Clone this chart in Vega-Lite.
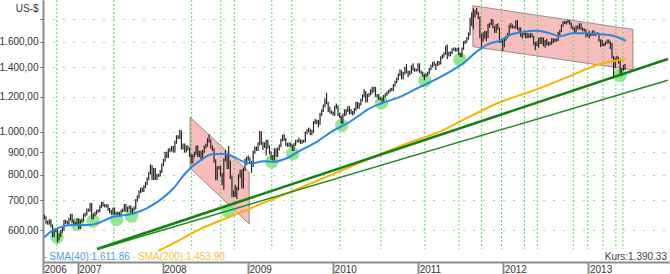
{
"$schema": "https://vega.github.io/schema/vega-lite/v6.json",
"width": 627, "height": 262,
"autosize": {"type": "none"},
"padding": {"left": 43, "top": 0, "right": 0, "bottom": 12},
"background": "white",
"config": {"view": {"stroke": null}, "font": "Liberation Sans"},
"datasets": {
"px": [
{"d":"2006-08-11","l":635,"h":650},{"d":"2006-08-18","l":620,"h":645},{"d":"2006-08-25","l":617,"h":630},{"d":"2006-09-01","l":617,"h":635},{"d":"2006-09-08","l":608,"h":635},{"d":"2006-09-15","l":578,"h":618},{"d":"2006-09-22","l":578,"h":605},{"d":"2006-09-29","l":594,"h":605},{"d":"2006-10-06","l":562,"h":604},{"d":"2006-10-13","l":568,"h":589},{"d":"2006-10-20","l":579,"h":600},{"d":"2006-10-27","l":590,"h":608},{"d":"2006-11-03","l":598,"h":633},{"d":"2006-11-10","l":620,"h":633},{"d":"2006-11-17","l":617,"h":630},{"d":"2006-11-24","l":617,"h":640},{"d":"2006-12-01","l":630,"h":653},{"d":"2006-12-08","l":623,"h":653},{"d":"2006-12-15","l":615,"h":633},{"d":"2006-12-22","l":615,"h":626},{"d":"2006-12-29","l":616,"h":637},
{"d":"2007-01-05","l":603,"h":637},{"d":"2007-01-12","l":603,"h":633},{"d":"2007-01-19","l":623,"h":637},{"d":"2007-01-26","l":627,"h":653},{"d":"2007-02-02","l":643,"h":657},{"d":"2007-02-09","l":647,"h":671},{"d":"2007-02-16","l":660,"h":671},{"d":"2007-02-23","l":660,"h":691},{"d":"2007-03-02","l":635,"h":691},{"d":"2007-03-09","l":635,"h":655},{"d":"2007-03-16","l":645,"h":660},{"d":"2007-03-23","l":650,"h":667},{"d":"2007-03-30","l":657,"h":668},{"d":"2007-04-06","l":658,"h":683},{"d":"2007-04-13","l":673,"h":695},{"d":"2007-04-20","l":678,"h":695},{"d":"2007-04-27","l":675,"h":688},{"d":"2007-05-04","l":675,"h":686},{"d":"2007-05-11","l":663,"h":686},{"d":"2007-05-18","l":656,"h":673},{"d":"2007-05-25","l":650,"h":666},{"d":"2007-06-01","l":650,"h":675},{"d":"2007-06-08","l":650,"h":675},{"d":"2007-06-15","l":650,"h":660},{"d":"2007-06-22","l":650,"h":660},{"d":"2007-06-29","l":644,"h":660},{"d":"2007-07-06","l":645,"h":667},{"d":"2007-07-13","l":657,"h":671},{"d":"2007-07-20","l":661,"h":687},{"d":"2007-07-27","l":659,"h":687},{"d":"2007-08-03","l":659,"h":678},{"d":"2007-08-10","l":668,"h":682},{"d":"2007-08-17","l":650,"h":682},{"d":"2007-08-24","l":650,"h":674},{"d":"2007-08-31","l":664,"h":678},{"d":"2007-09-07","l":668,"h":705},{"d":"2007-09-14","l":695,"h":718},{"d":"2007-09-21","l":708,"h":738},{"d":"2007-09-28","l":728,"h":748},{"d":"2007-10-05","l":731,"h":749},{"d":"2007-10-12","l":731,"h":758},{"d":"2007-10-19","l":746,"h":771},{"d":"2007-10-26","l":759,"h":790},{"d":"2007-11-02","l":778,"h":813},{"d":"2007-11-09","l":801,"h":845},{"d":"2007-11-16","l":779,"h":841},{"d":"2007-11-23","l":779,"h":829},{"d":"2007-11-30","l":779,"h":829},{"d":"2007-12-07","l":779,"h":803},{"d":"2007-12-14","l":791,"h":805},{"d":"2007-12-21","l":793,"h":820},{"d":"2007-12-28","l":808,"h":848},
{"d":"2008-01-04","l":836,"h":869},{"d":"2008-01-11","l":856,"h":902},{"d":"2008-01-18","l":873,"h":902},{"d":"2008-01-25","l":873,"h":917},{"d":"2008-02-01","l":900,"h":920},{"d":"2008-02-08","l":903,"h":929},{"d":"2008-02-15","l":898,"h":929},{"d":"2008-02-22","l":898,"h":955},{"d":"2008-02-29","l":940,"h":983},{"d":"2008-03-07","l":964,"h":983},{"d":"2008-03-14","l":964,"h":1011},{"d":"2008-03-21","l":913,"h":1008},{"d":"2008-03-28","l":913,"h":942},{"d":"2008-04-04","l":898,"h":942},{"d":"2008-04-11","l":898,"h":932},{"d":"2008-04-18","l":908,"h":932},{"d":"2008-04-25","l":878,"h":922},{"d":"2008-05-02","l":848,"h":892},{"d":"2008-05-09","l":848,"h":890},{"d":"2008-05-16","l":876,"h":902},{"d":"2008-05-23","l":888,"h":932},{"d":"2008-05-30","l":878,"h":932},{"d":"2008-06-06","l":878,"h":907},{"d":"2008-06-13","l":863,"h":907},{"d":"2008-06-20","l":863,"h":910},{"d":"2008-06-27","l":896,"h":932},{"d":"2008-07-04","l":918,"h":940},{"d":"2008-07-11","l":926,"h":968},{"d":"2008-07-18","l":947,"h":988},{"d":"2008-07-25","l":918,"h":962},{"d":"2008-08-01","l":905,"h":932},{"d":"2008-08-08","l":853,"h":919},{"d":"2008-08-15","l":778,"h":867},{"d":"2008-08-22","l":778,"h":836},{"d":"2008-08-29","l":822,"h":839},{"d":"2008-09-05","l":793,"h":839},{"d":"2008-09-12","l":758,"h":806},{"d":"2008-09-19","l":740,"h":872},{"d":"2008-09-26","l":858,"h":910},{"d":"2008-10-03","l":825,"h":892},{"d":"2008-10-10","l":825,"h":930},{"d":"2008-10-17","l":783,"h":862},{"d":"2008-10-24","l":712,"h":797},{"d":"2008-10-31","l":713,"h":737},{"d":"2008-11-07","l":713,"h":760},{"d":"2008-11-14","l":705,"h":752},{"d":"2008-11-21","l":738,"h":802},{"d":"2008-11-28","l":788,"h":822},{"d":"2008-12-05","l":745,"h":822},{"d":"2008-12-12","l":745,"h":830},{"d":"2008-12-19","l":816,"h":870},{"d":"2008-12-26","l":841,"h":879},
{"d":"2009-01-02","l":861,"h":885},{"d":"2009-01-09","l":846,"h":875},{"d":"2009-01-16","l":808,"h":860},{"d":"2009-01-23","l":833,"h":907},{"d":"2009-01-30","l":893,"h":927},{"d":"2009-02-06","l":906,"h":927},{"d":"2009-02-13","l":906,"h":948},{"d":"2009-02-20","l":933,"h":1005},{"d":"2009-02-27","l":935,"h":1003},{"d":"2009-03-06","l":910,"h":950},{"d":"2009-03-13","l":920,"h":948},{"d":"2009-03-20","l":885,"h":960},{"d":"2009-03-27","l":918,"h":960},{"d":"2009-04-03","l":890,"h":932},{"d":"2009-04-10","l":865,"h":904},{"d":"2009-04-17","l":862,"h":887},{"d":"2009-04-24","l":861,"h":919},{"d":"2009-05-01","l":878,"h":919},{"d":"2009-05-08","l":878,"h":922},{"d":"2009-05-15","l":908,"h":937},{"d":"2009-05-22","l":923,"h":965},{"d":"2009-05-29","l":951,"h":985},{"d":"2009-06-05","l":955,"h":990},{"d":"2009-06-12","l":931,"h":969},{"d":"2009-06-19","l":926,"h":945},{"d":"2009-06-26","l":926,"h":947},{"d":"2009-07-03","l":923,"h":947},{"d":"2009-07-10","l":905,"h":937},{"d":"2009-07-17","l":905,"h":944},{"d":"2009-07-24","l":930,"h":960},{"d":"2009-07-31","l":946,"h":960},{"d":"2009-08-07","l":946,"h":970},{"d":"2009-08-14","l":940,"h":962},{"d":"2009-08-21","l":940,"h":959},{"d":"2009-08-28","l":945,"h":962},{"d":"2009-09-04","l":948,"h":1002},{"d":"2009-09-11","l":988,"h":1014},{"d":"2009-09-18","l":998,"h":1024},{"d":"2009-09-25","l":983,"h":1017},{"d":"2009-10-02","l":983,"h":1010},{"d":"2009-10-09","l":996,"h":1058},{"d":"2009-10-16","l":1042,"h":1070},{"d":"2009-10-23","l":1042,"h":1065},{"d":"2009-10-30","l":1024,"h":1065},{"d":"2009-11-06","l":1037,"h":1103},{"d":"2009-11-13","l":1087,"h":1126},{"d":"2009-11-20","l":1110,"h":1153},{"d":"2009-11-27","l":1137,"h":1190},{"d":"2009-12-04","l":1154,"h":1226},{"d":"2009-12-11","l":1110,"h":1170},{"d":"2009-12-18","l":1102,"h":1140},{"d":"2009-12-25","l":1097,"h":1118},
{"d":"2010-01-01","l":1088,"h":1113},{"d":"2010-01-08","l":1088,"h":1146},{"d":"2010-01-15","l":1129,"h":1160},{"d":"2010-01-22","l":1087,"h":1148},{"d":"2010-01-29","l":1074,"h":1103},{"d":"2010-02-05","l":1043,"h":1090},{"d":"2010-02-12","l":1043,"h":1101},{"d":"2010-02-19","l":1085,"h":1125},{"d":"2010-02-26","l":1090,"h":1126},{"d":"2010-03-05","l":1110,"h":1143},{"d":"2010-03-12","l":1096,"h":1143},{"d":"2010-03-19","l":1096,"h":1127},{"d":"2010-03-26","l":1090,"h":1115},{"d":"2010-04-02","l":1097,"h":1133},{"d":"2010-04-09","l":1117,"h":1170},{"d":"2010-04-16","l":1128,"h":1170},{"d":"2010-04-23","l":1128,"h":1164},{"d":"2010-04-30","l":1148,"h":1188},{"d":"2010-05-07","l":1172,"h":1216},{"d":"2010-05-14","l":1200,"h":1249},{"d":"2010-05-21","l":1166,"h":1238},{"d":"2010-05-28","l":1168,"h":1220},{"d":"2010-06-04","l":1200,"h":1225},{"d":"2010-06-11","l":1209,"h":1249},{"d":"2010-06-18","l":1221,"h":1265},{"d":"2010-06-25","l":1230,"h":1265},{"d":"2010-07-02","l":1200,"h":1264},{"d":"2010-07-09","l":1195,"h":1218},{"d":"2010-07-16","l":1181,"h":1218},{"d":"2010-07-23","l":1180,"h":1198},{"d":"2010-07-30","l":1157,"h":1197},{"d":"2010-08-06","l":1173,"h":1212},{"d":"2010-08-13","l":1196,"h":1223},{"d":"2010-08-20","l":1207,"h":1235},{"d":"2010-08-27","l":1219,"h":1245},{"d":"2010-09-03","l":1229,"h":1256},{"d":"2010-09-10","l":1238,"h":1258},{"d":"2010-09-17","l":1238,"h":1283},{"d":"2010-09-24","l":1267,"h":1305},{"d":"2010-10-01","l":1289,"h":1326},{"d":"2010-10-08","l":1309,"h":1356},{"d":"2010-10-15","l":1338,"h":1387},{"d":"2010-10-22","l":1316,"h":1378},{"d":"2010-10-29","l":1316,"h":1367},{"d":"2010-11-05","l":1349,"h":1403},{"d":"2010-11-12","l":1357,"h":1424},{"d":"2010-11-19","l":1330,"h":1375},{"d":"2010-11-26","l":1344,"h":1375},{"d":"2010-12-03","l":1354,"h":1415},{"d":"2010-12-10","l":1376,"h":1431},{"d":"2010-12-17","l":1369,"h":1394},{"d":"2010-12-24","l":1370,"h":1390},{"d":"2010-12-31","l":1371,"h":1430},
{"d":"2011-01-07","l":1360,"h":1430},{"d":"2011-01-14","l":1350,"h":1378},{"d":"2011-01-21","l":1333,"h":1369},{"d":"2011-01-28","l":1309,"h":1351},{"d":"2011-02-04","l":1331,"h":1358},{"d":"2011-02-11","l":1340,"h":1369},{"d":"2011-02-18","l":1351,"h":1397},{"d":"2011-02-25","l":1379,"h":1419},{"d":"2011-03-04","l":1400,"h":1440},{"d":"2011-03-11","l":1410,"h":1445},{"d":"2011-03-18","l":1380,"h":1429},{"d":"2011-03-25","l":1409,"h":1447},{"d":"2011-04-01","l":1415,"h":1447},{"d":"2011-04-08","l":1420,"h":1484},{"d":"2011-04-15","l":1464,"h":1496},{"d":"2011-04-22","l":1476,"h":1514},{"d":"2011-04-29","l":1494,"h":1566},{"d":"2011-05-06","l":1462,"h":1576},{"d":"2011-05-13","l":1481,"h":1519},{"d":"2011-05-20","l":1483,"h":1521},{"d":"2011-05-27","l":1501,"h":1546},{"d":"2011-06-03","l":1526,"h":1552},{"d":"2011-06-10","l":1519,"h":1552},{"d":"2011-06-17","l":1519,"h":1549},{"d":"2011-06-24","l":1490,"h":1555},{"d":"2011-07-01","l":1478,"h":1510},{"d":"2011-07-08","l":1476,"h":1552},{"d":"2011-07-15","l":1532,"h":1604},{"d":"2011-07-22","l":1580,"h":1612},{"d":"2011-07-29","l":1592,"h":1638},{"d":"2011-08-05","l":1617,"h":1680},{"d":"2011-08-12","l":1653,"h":1815},{"d":"2011-08-19","l":1735,"h":1865},{"d":"2011-08-26","l":1705,"h":1905},{"d":"2011-09-02","l":1816,"h":1888},{"d":"2011-09-09","l":1844,"h":1910},{"d":"2011-09-16","l":1800,"h":1868},{"d":"2011-09-23","l":1630,"h":1824},{"d":"2011-09-30","l":1535,"h":1667},{"d":"2011-10-07","l":1600,"h":1680},{"d":"2011-10-14","l":1625,"h":1692},{"d":"2011-10-21","l":1605,"h":1692},{"d":"2011-10-28","l":1632,"h":1755},{"d":"2011-11-04","l":1720,"h":1765},{"d":"2011-11-11","l":1745,"h":1800},{"d":"2011-11-18","l":1715,"h":1798},{"d":"2011-11-25","l":1675,"h":1735},{"d":"2011-12-02","l":1675,"h":1755},{"d":"2011-12-09","l":1703,"h":1762},{"d":"2011-12-16","l":1590,"h":1723},{"d":"2011-12-23","l":1590,"h":1618},{"d":"2011-12-30","l":1523,"h":1616},
{"d":"2012-01-06","l":1555,"h":1627},{"d":"2012-01-13","l":1607,"h":1650},{"d":"2012-01-20","l":1630,"h":1675},{"d":"2012-01-27","l":1655,"h":1747},{"d":"2012-02-03","l":1715,"h":1763},{"d":"2012-02-10","l":1715,"h":1750},{"d":"2012-02-17","l":1714,"h":1735},{"d":"2012-02-24","l":1714,"h":1787},{"d":"2012-03-02","l":1700,"h":1792},{"d":"2012-03-09","l":1680,"h":1722},{"d":"2012-03-16","l":1642,"h":1722},{"d":"2012-03-23","l":1627,"h":1673},{"d":"2012-03-30","l":1653,"h":1678},{"d":"2012-04-06","l":1630,"h":1678},{"d":"2012-04-13","l":1630,"h":1675},{"d":"2012-04-20","l":1632,"h":1670},{"d":"2012-04-27","l":1632,"h":1673},{"d":"2012-05-04","l":1635,"h":1673},{"d":"2012-05-11","l":1570,"h":1650},{"d":"2012-05-18","l":1530,"h":1600},{"d":"2012-05-25","l":1563,"h":1602},{"d":"2012-06-01","l":1550,"h":1632},{"d":"2012-06-08","l":1580,"h":1640},{"d":"2012-06-15","l":1580,"h":1637},{"d":"2012-06-22","l":1562,"h":1637},{"d":"2012-06-29","l":1550,"h":1614},{"d":"2012-07-06","l":1570,"h":1625},{"d":"2012-07-13","l":1565,"h":1600},{"d":"2012-07-20","l":1570,"h":1600},{"d":"2012-07-27","l":1574,"h":1630},{"d":"2012-08-03","l":1590,"h":1630},{"d":"2012-08-10","l":1595,"h":1630},{"d":"2012-08-17","l":1600,"h":1626},{"d":"2012-08-24","l":1606,"h":1682},{"d":"2012-08-31","l":1650,"h":1702},{"d":"2012-09-07","l":1682,"h":1750},{"d":"2012-09-14","l":1730,"h":1780},{"d":"2012-09-21","l":1755,"h":1783},{"d":"2012-09-28","l":1750,"h":1783},{"d":"2012-10-05","l":1762,"h":1795},{"d":"2012-10-12","l":1748,"h":1790},{"d":"2012-10-19","l":1713,"h":1768},{"d":"2012-10-26","l":1700,"h":1733},{"d":"2012-11-02","l":1667,"h":1722},{"d":"2012-11-09","l":1667,"h":1741},{"d":"2012-11-16","l":1704,"h":1741},{"d":"2012-11-23","l":1704,"h":1761},{"d":"2012-11-30","l":1702,"h":1761},{"d":"2012-12-07","l":1690,"h":1722},{"d":"2012-12-14","l":1687,"h":1715},{"d":"2012-12-21","l":1635,"h":1707},{"d":"2012-12-28","l":1647,"h":1667},
{"d":"2013-01-04","l":1626,"h":1693},{"d":"2013-01-11","l":1646,"h":1672},{"d":"2013-01-18","l":1652,"h":1697},{"d":"2013-01-25","l":1648,"h":1697},{"d":"2013-02-01","l":1648,"h":1677},{"d":"2013-02-08","l":1657,"h":1680},{"d":"2013-02-15","l":1600,"h":1677},{"d":"2013-02-22","l":1555,"h":1620},{"d":"2013-03-01","l":1563,"h":1617},{"d":"2013-03-08","l":1563,"h":1590},{"d":"2013-03-15","l":1567,"h":1602},{"d":"2013-03-22","l":1582,"h":1618},{"d":"2013-03-29","l":1586,"h":1618},{"d":"2013-04-05","l":1540,"h":1606},{"d":"2013-04-12","l":1466,"h":1590},{"d":"2013-04-19","l":1321,"h":1486},{"d":"2013-04-26","l":1395,"h":1472},{"d":"2013-05-03","l":1452,"h":1488},{"d":"2013-05-10","l":1427,"h":1479},{"d":"2013-05-17","l":1349,"h":1447},{"d":"2013-05-24","l":1338,"h":1396},{"d":"2013-05-31","l":1376,"h":1418},{"d":"2013-06-07","l":1380,"h":1425}
],
"sma40": [
{"d":"2006-08-11","v":578},{"d":"2006-09-18","v":600},{"d":"2006-12-13","v":616},{"d":"2007-02-23","v":616},{"d":"2007-03-24","v":621},{"d":"2007-06-03","v":643},{"d":"2007-08-28","v":654},{"d":"2007-10-24","v":672},{"d":"2007-12-20","v":701},{"d":"2008-02-15","v":745},{"d":"2008-04-13","v":813},{"d":"2008-06-09","v":861},{"d":"2008-08-05","v":891},{"d":"2008-10-02","v":891},{"d":"2008-10-31","v":879},{"d":"2008-12-13","v":856},{"d":"2009-01-18","v":849},{"d":"2009-03-08","v":859},{"d":"2009-04-20","v":856},{"d":"2009-06-16","v":872},{"d":"2009-08-12","v":907},{"d":"2009-10-23","v":950},{"d":"2010-01-02","v":1007},{"d":"2010-03-07","v":1049},{"d":"2010-04-26","v":1092},{"d":"2010-05-25","v":1120},{"d":"2010-08-04","v":1164},{"d":"2010-10-15","v":1200},{"d":"2010-12-26","v":1254},{"d":"2011-03-07","v":1306},{"d":"2011-05-18","v":1369},{"d":"2011-07-14","v":1430},{"d":"2011-09-09","v":1519},{"d":"2011-11-05","v":1586},{"d":"2011-12-17","v":1608},{"d":"2012-01-30","v":1657},{"d":"2012-03-28","v":1686},{"d":"2012-05-24","v":1694},{"d":"2012-07-20","v":1671},{"d":"2012-09-01","v":1647},{"d":"2012-10-28","v":1671},{"d":"2012-12-24","v":1671},{"d":"2013-02-20","v":1663},{"d":"2013-04-17","v":1651},{"d":"2013-06-11","v":1608}
],
"sma200": [
{"d":"2007-12-12","v":538},{"d":"2008-03-15","v":570},{"d":"2008-06-09","v":603},{"d":"2008-10-03","v":639},{"d":"2009-08-12","v":747},{"d":"2010-03-14","v":833},{"d":"2010-10-15","v":929},{"d":"2011-04-14","v":1007},{"d":"2011-08-12","v":1084},{"d":"2011-12-17","v":1167},{"d":"2012-05-09","v":1240},{"d":"2012-10-02","v":1330},{"d":"2013-02-20","v":1425},{"d":"2013-06-11","v":1462}
],
"trend": [
{"line":"A","d":"2007-03-25","v":543.5},{"line":"A","d":"2013-12-08","v":1462},
{"line":"B","d":"2007-03-25","v":542},{"line":"B","d":"2013-12-08","v":1309}
],
"vlines": [
{"d":"2006-10-03"},{"d":"2007-06-05"},{"d":"2008-05-04"},{"d":"2008-09-06"},{"d":"2008-11-03"},{"d":"2009-04-13"},{"d":"2009-07-08"},{"d":"2010-01-31"},{"d":"2010-07-25"},{"d":"2011-01-30"},{"d":"2011-06-25"},{"d":"2011-09-30"},{"d":"2011-12-25"},{"d":"2012-04-01"},{"d":"2012-05-27"},{"d":"2012-10-28"},{"d":"2012-12-29"},{"d":"2013-03-04"},{"d":"2013-04-29"},{"d":"2013-05-29"}
],
"circles": [
{"d":"2006-10-04","v":578},{"d":"2006-12-30","v":618},{"d":"2007-03-08","v":629},{"d":"2007-06-17","v":634},{"d":"2007-08-20","v":645},{"d":"2008-10-08","v":662},{"d":"2009-04-13","v":856},{"d":"2009-07-12","v":894},{"d":"2010-02-07","v":1035},{"d":"2010-07-28","v":1164},{"d":"2011-01-30","v":1306},{"d":"2011-06-29","v":1459},{"d":"2013-05-17","v":1344}
],
"zones": [
{"z":"2008","d":"2008-04-27","top":1080,"bot":829},{"z":"2008","d":"2009-01-06","top":812,"bot":619},
{"z":"2011","d":"2011-08-24","top":1930,"bot":1559},{"z":"2011","d":"2013-07-11","top":1706,"bot":1381}
],
"labels": [
{"s":"SMA40","t":"- SMA(40):1.611.86","d":"2006-08-06","v":513,"a":"left"},
{"s":"SMA200","t":"- SMA(200):1.453.90","d":"2007-08-22","v":513,"a":"left"},
{"s":"Kurs","t":"Kurs:1.390.33","d":"2013-12-04","v":513,"a":"right"}
]
},
"encoding": {
"x": {"field": "d", "type": "temporal",
 "scale": {"type": "utc", "domain": [{"year":2006,"month":8,"date":5,"utc":true},{"year":2013,"month":12,"date":17,"utc":true}]},
 "axis": {"title": null, "orient": "bottom", "grid": false,
  "values": [{"year":2006,"month":8,"date":5,"utc":true},{"year":2007,"month":1,"date":1,"utc":true},{"year":2008,"month":1,"date":1,"utc":true},{"year":2009,"month":1,"date":1,"utc":true},{"year":2010,"month":1,"date":1,"utc":true},{"year":2011,"month":1,"date":1,"utc":true},{"year":2012,"month":1,"date":1,"utc":true},{"year":2013,"month":1,"date":1,"utc":true}],
  "labelExpr": "utcFormat(datum.value, '%Y')",
  "domainColor": "#8c8c8c", "domainWidth": 2,
  "tickColor": "#8c8c8c", "tickWidth": 2, "tickSize": 12,
  "labelAlign": "left", "labelBaseline": "alphabetic", "labelPadding": -2, "labelOffset": 1,
  "labelFontSize": 10, "labelColor": "#333", "labelOverlap": false, "labelBound": false, "labelFlush": false}}
},
"layer": [
{"data": {"name": "zones"},
 "mark": {"type": "area", "fill": "#f7bcbc", "stroke": "#6a6a6a", "strokeWidth": 0.7},
 "encoding": {
  "y": {"field": "top", "type": "quantitative",
   "scale": {"type": "log", "domain": [508, 1988], "nice": false, "zero": false},
   "axis": {"title": "US-$", "titleAngle": 0, "titleX": -5, "titleY": 11, "titleAlign": "right", "titleBaseline": "alphabetic", "titleFontWeight": "normal", "titleFontSize": 10, "titleColor": "#333",
    "values": [600,700,800,900,1000,1200,1400,1600,1800],
    "labelExpr": "datum.value == 1800 ? '' : replace(replace(replace(format(datum.value, ',.2f'), ',', '#'), '.', ','), '#', '.')",
    "labelFontSize": 10, "labelColor": "#333", "labelPadding": 2,
    "tickSize": 3, "tickColor": "#555",
    "domainColor": "#8c8c8c", "domainWidth": 2,
    "grid": true, "gridColor": "#8a8a8a", "gridDash": [1, 9], "gridWidth": 1}},
  "y2": {"field": "bot"},
  "detail": {"field": "z"}}},
{"data": {"name": "vlines"},
 "mark": {"type": "rule", "color": "#5ad85a", "strokeDash": [2, 2], "strokeWidth": 1},
 "encoding": {"y": {"datum": 1988}, "y2": {"datum": 544}}},
{"data": {"name": "circles"},
 "mark": {"type": "point", "filled": true, "color": "#86e486", "opacity": 0.9, "size": 180},
 "encoding": {"y": {"field": "v", "type": "quantitative"}}},
{"data": {"name": "px"},
 "mark": {"type": "rule", "color": "#262626", "strokeWidth": 1.2},
 "encoding": {"y": {"field": "l", "type": "quantitative"}, "y2": {"field": "h"}}},
{"data": {"name": "sma200"},
 "mark": {"type": "line", "color": "#f5b400", "strokeWidth": 2, "interpolate": "monotone"},
 "encoding": {"y": {"field": "v", "type": "quantitative"}}},
{"data": {"name": "sma40"},
 "mark": {"type": "line", "color": "#2a88e0", "strokeWidth": 2, "interpolate": "monotone"},
 "encoding": {"y": {"field": "v", "type": "quantitative"}}},
{"data": {"name": "trend"},
 "transform": [{"filter": "datum.line == 'A'"}],
 "mark": {"type": "line", "color": "#138013", "strokeWidth": 2.5},
 "encoding": {"y": {"field": "v", "type": "quantitative"}}},
{"data": {"name": "trend"},
 "transform": [{"filter": "datum.line == 'B'"}],
 "mark": {"type": "line", "color": "#1f8a1f", "strokeWidth": 1.5},
 "encoding": {"y": {"field": "v", "type": "quantitative"}}},
{"data": {"name": "labels"},
 "transform": [{"filter": "datum.a == 'left'"}],
 "mark": {"type": "text", "align": "left", "baseline": "alphabetic", "fontSize": 10},
 "encoding": {"y": {"field": "v", "type": "quantitative"}, "text": {"field": "t"},
  "color": {"field": "s", "type": "nominal", "legend": null, "scale": {"domain": ["SMA40","SMA200","Kurs"], "range": ["#4f9be0","#f2c23c","#444"]}}}},
{"data": {"name": "labels"},
 "transform": [{"filter": "datum.a == 'right'"}],
 "mark": {"type": "text", "align": "right", "baseline": "alphabetic", "fontSize": 10},
 "encoding": {"y": {"field": "v", "type": "quantitative"}, "text": {"field": "t"},
  "color": {"field": "s", "type": "nominal", "legend": null}}},
{"data": {"values": [{}]},
 "mark": {"type": "rule", "color": "#777", "strokeWidth": 2},
 "encoding": {"y": {"datum": 1988}}}
]
}
